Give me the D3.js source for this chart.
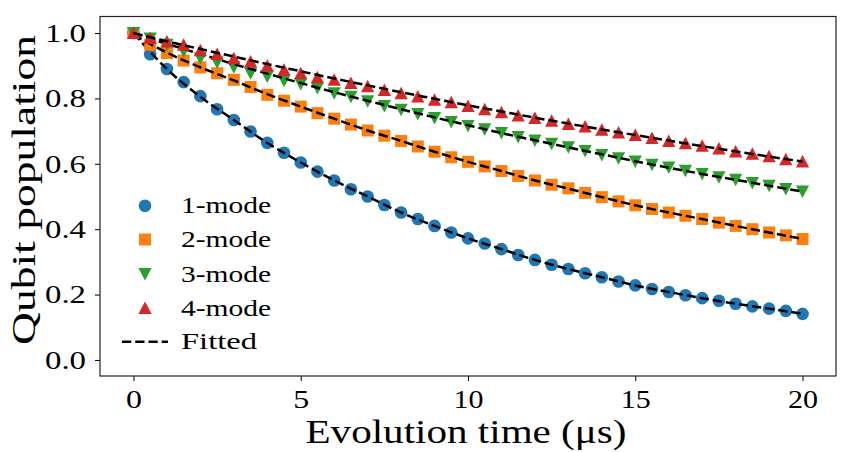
<!DOCTYPE html>
<html><head><meta charset="utf-8">
<script src="https://cdn.jsdelivr.net/npm/d3@7"></script>
<style>body{margin:0;background:#fff}svg{display:block}text{font-family:"Liberation Serif","DejaVu Serif",serif;fill:#000}</style>
</head><body><svg id="c" width="848" height="452"></svg>
<script>
const times = [0,0.5,1,1.5,2,2.5,3,3.5,4,4.5,5,5.5,6,6.5,7,7.5,8,8.5,9,9.5,10,10.5,11,11.5,12,12.5,13,13.5,14,14.5,15,15.5,16,16.5,17,17.5,18,18.5,19,19.5,20];
const mode1 = [1.0,0.935,0.890,0.850,0.807,0.767,0.734,0.699,0.664,0.634,0.604,0.576,0.549,0.522,0.500,0.474,0.451,0.431,0.410,0.390,0.372,0.356,0.339,0.321,0.306,0.291,0.278,0.265,0.253,0.240,0.228,0.217,0.208,0.198,0.189,0.181,0.172,0.164,0.157,0.150,0.141];
const mode2 = [1.0,0.964,0.939,0.916,0.895,0.877,0.857,0.835,0.811,0.793,0.775,0.755,0.738,0.720,0.702,0.686,0.670,0.653,0.637,0.620,0.606,0.592,0.578,0.563,0.549,0.536,0.525,0.511,0.498,0.485,0.473,0.462,0.451,0.441,0.431,0.420,0.410,0.400,0.390,0.381,0.370];
const mode3 = [1.0,0.983,0.964,0.944,0.923,0.910,0.895,0.877,0.867,0.854,0.844,0.832,0.816,0.805,0.791,0.777,0.765,0.752,0.740,0.728,0.716,0.706,0.694,0.682,0.671,0.661,0.651,0.639,0.627,0.617,0.607,0.597,0.589,0.579,0.569,0.559,0.551,0.541,0.533,0.523,0.515];
const mode4 = [1.0,0.985,0.974,0.964,0.947,0.936,0.923,0.913,0.900,0.888,0.877,0.865,0.857,0.847,0.837,0.826,0.816,0.806,0.796,0.788,0.777,0.767,0.758,0.748,0.740,0.732,0.722,0.714,0.704,0.696,0.688,0.679,0.670,0.663,0.655,0.647,0.638,0.631,0.623,0.614,0.607];
const fitTimes = [0,1,2,3,4,5,6,7,8,9,10,11,12,13,14,15,16,17,18,19,20];
const fit1 = [1.0,0.890,0.805,0.734,0.664,0.604,0.549,0.500,0.451,0.410,0.372,0.339,0.306,0.278,0.253,0.228,0.208,0.189,0.172,0.157,0.141];
const fit2 = [0.995,0.940,0.895,0.855,0.813,0.775,0.738,0.702,0.670,0.637,0.606,0.578,0.549,0.524,0.498,0.473,0.451,0.431,0.410,0.390,0.370];
const fit3 = [1.0,0.967,0.936,0.905,0.876,0.847,0.819,0.793,0.767,0.742,0.718,0.694,0.672,0.650,0.629,0.608,0.588,0.569,0.551,0.533,0.515];
const fit4 = [1.0,0.975,0.951,0.928,0.905,0.883,0.861,0.840,0.819,0.799,0.779,0.760,0.741,0.723,0.705,0.688,0.671,0.654,0.638,0.622,0.607];
const labels = ["1-mode","2-mode","3-mode","4-mode"];
const fitLabel = "Fitted";
const xTicks = [0,5,10,15,20];
const yTicks = [0.0,0.2,0.4,0.6,0.8,1.0];
const xTitle = "Evolution time (\u03bcs)";
const yTitle = "Qubit population";

const colors = ["#1f77b4","#ff7f0e","#2ca02c","#d62728"];
const shapes = ["circle","square","down","up"];
const svg = d3.select("#c");
const L=100,R=836,T=16.5,B=376;
const x = d3.scaleLinear().domain([-1,21]).range([L,R]);
const y = d3.scaleLinear().domain([-0.05,1.05]).range([376.3,16.7]);

function marker(g, shape, color, cx, cy){
  if(shape==="circle") g.append("circle").attr("cx",cx).attr("cy",cy).attr("r",6.3).attr("fill",color);
  else if(shape==="square") g.append("rect").attr("x",cx-6).attr("y",cy-6).attr("width",12).attr("height",12).attr("fill",color);
  else if(shape==="down") g.append("path").attr("d",`M${cx-6.6},${cy-6}L${cx+6.6},${cy-6}L${cx},${cy+6.5}Z`).attr("fill",color);
  else g.append("path").attr("d",`M${cx-6.6},${cy+6}L${cx+6.6},${cy+6}L${cx},${cy-6.5}Z`).attr("fill",color);
}
function stretch(sel, w){ sel.attr("textLength", w).attr("lengthAdjust","spacingAndGlyphs"); }

const series=[mode1,mode2,mode3,mode4];
const fits=[fit1,fit2,fit3,fit4];
const plot = svg.append("g");
const line = d3.line().x((d,i)=>x(fitTimes[i])).y(d=>y(d)).curve(d3.curveMonotoneX);
series.forEach((s,k)=>{
  const g = plot.append("g");
  s.forEach((v,i)=>marker(g,shapes[k],colors[k],x(times[i]),y(v)));
  plot.append("path").datum(fits[k]).attr("d",line).attr("fill","none")
    .attr("stroke","#000").attr("stroke-width",2.5).attr("stroke-dasharray","9.25,4");
});

// axes
const xa = svg.append("g").attr("transform",`translate(0,${B})`)
  .call(d3.axisBottom(x).tickValues(xTicks).tickSize(5).tickPadding(6).tickFormat(d3.format("d")));
const ya = svg.append("g").attr("transform",`translate(${L},0)`)
  .call(d3.axisLeft(y).tickValues(yTicks).tickSize(5).tickPadding(9).tickFormat(d3.format(".1f")));
[xa,ya].forEach(a=>{a.select(".domain").remove();a.selectAll("line").attr("stroke","#000").attr("stroke-width",1);
  a.selectAll("text").style("font-family",'"Liberation Serif",serif').style("font-size","26px").attr("fill","#000");});
xa.selectAll("text").attr("dy","0.8em").each(function(d){ stretch(d3.select(this), String(d).length>1?30:16); });
ya.selectAll("text").each(function(){ stretch(d3.select(this), 41); });
svg.append("rect").attr("x",L).attr("y",T).attr("width",R-L).attr("height",B-T)
  .attr("fill","none").attr("stroke","#222").attr("stroke-width",1.2);

const xt = svg.append("text").attr("x",466).attr("y",443).attr("text-anchor","middle").style("font-size","33px").text(xTitle);
stretch(xt, 321);
const yt = svg.append("text").attr("transform","translate(35,190) rotate(-90)").attr("text-anchor","middle").style("font-size","33px").text(yTitle);
stretch(yt, 310);

// legend
const lg = svg.append("g");
const ly=[205.7,239.5,274,308,341.7];
labels.forEach((t,k)=>{
  marker(lg,shapes[k],colors[k],145,ly[k]);
  stretch(lg.append("text").attr("x",181).attr("y",ly[k]).attr("dy","0.33em").style("font-size","23px").text(t), 90);
});
lg.append("line").attr("x1",122).attr("x2",168).attr("y1",ly[4]).attr("y2",ly[4]).attr("stroke","#000").attr("stroke-width",2.5).attr("stroke-dasharray","9.25,4");
stretch(lg.append("text").attr("x",181).attr("y",ly[4]).attr("dy","0.33em").style("font-size","23px").text(fitLabel), 76);
</script></body></html>
